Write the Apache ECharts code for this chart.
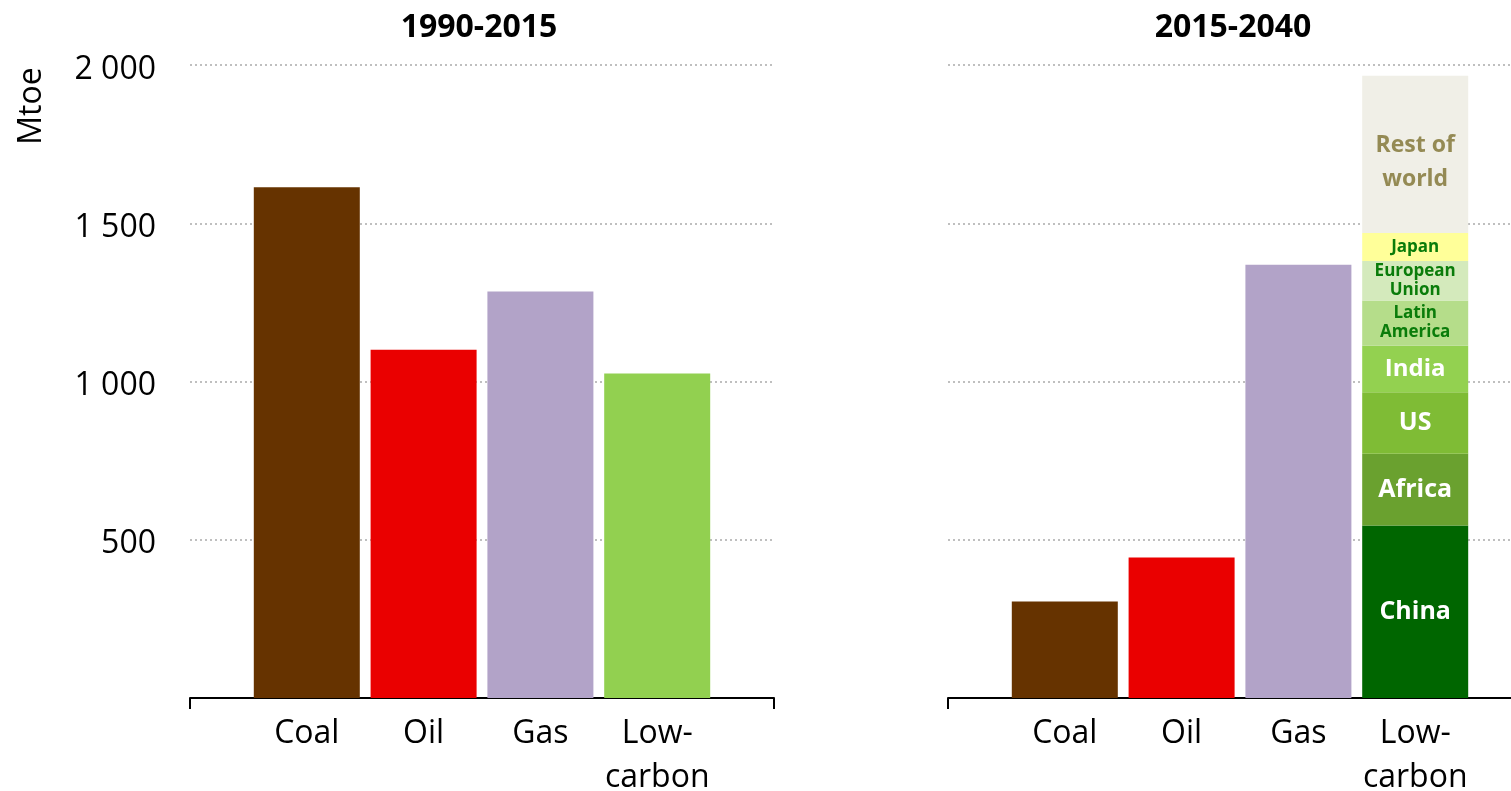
<!DOCTYPE html>
<html>
<head>
<meta charset="utf-8">
<script src="https://cdn.jsdelivr.net/npm/echarts@6/dist/echarts.min.js"></script>
<style>
html,body{margin:0;padding:0;background:#fff;}
#chart{width:1511px;height:791px;}
</style>
</head>
<body>
<div id="chart"></div>
<script>
// ---- data ----
const categories = ['Coal', 'Oil', 'Gas', 'Low-carbon'];
const panelTitles = ['1990-2015', '2015-2040'];
const values1990to2015 = [1614, 1100, 1284, 1025];
const fuels2015to2040 = ['Coal', 'Oil', 'Gas'];
const values2015to2040 = [305, 444, 1369];
const regions = ['China', 'Africa', 'US', 'India', 'Latin America', 'European Union', 'Japan', 'Rest of world'];
const regionLabels = ['China', 'Africa', 'US', 'India', 'Latin\nAmerica', 'European\nUnion', 'Japan', 'Rest of\nworld'];
const regionValues2015to2040 = [545, 227, 194, 147, 143, 125, 88, 497];
const yTickValues = [0, 500, 1000, 1500, 2000];
const yAxisUnit = 'Mtoe';

// ---- styles ----
const FONT = '"Open Sans", "Noto Sans", sans-serif';
const fuelColors = ['#663300', '#EA0000', '#B2A3C8', '#92D050'];
const regionColors = ['#006600', '#6AA12F', '#7FBC35', '#93D150', '#B5DD8A', '#D4EABC', '#FFFF99', '#F0EFE7'];
const regionLabelStyles = [
  {color: '#fff', fontSize: 25},
  {color: '#fff', fontSize: 25},
  {color: '#fff', fontSize: 25},
  {color: '#fff', fontSize: 24},
  {color: '#0A7C0A', fontSize: 17, lineHeight: 19},
  {color: '#0A7C0A', fontSize: 17, lineHeight: 19},
  {color: '#0A7C0A', fontSize: 17},
  {color: '#948A54', fontSize: 23, lineHeight: 34, offset: [0, 8]}
];

function fmtThousands(v) {
  if (v === 0) return '';
  const s = v >= 1000 ? Math.floor(v / 1000) + ' ' + String(v % 1000).padStart(3, '0') : String(v);
  return '{n|' + s + '}';
}

// axis slots: an empty slot at each end so the axis line runs past the bars
const axisCats = [''].concat(categories, ['']);
const nSlots = axisCats.length;
const pad = (arr, offset) => axisCats.map((c, k) => {
  const i = k - offset;
  return (i >= 0 && i < arr.length) ? arr[i] : '-';
});

const chart = echarts.init(document.getElementById('chart'), null, {renderer: 'canvas'});

const gridTop = 65, gridHeight = 633;
function makeX(idx, ticks) {
  return {
    type: 'category', gridIndex: idx, data: axisCats, boundaryGap: false,
    splitLine: {show: false},
    axisLine: {show: true, onZero: false, lineStyle: {color: '#000', width: 2}},
    axisTick: {show: true, customValues: ticks, length: 11, lineStyle: {color: '#000', width: 2}},
    axisLabel: {
      interval: 0, formatter: v => v.replace('-', '-\n'),
      fontSize: 32, lineHeight: 44, color: '#000', fontFamily: FONT, margin: 14
    }
  };
}
function makeY(idx, showLabels) {
  return {
    type: 'value', gridIndex: idx, min: 0, max: 2000, interval: 500,
    axisLine: {show: false}, axisTick: {show: false},
    splitLine: {show: true, lineStyle: {color: '#BFBFBF', width: 2, type: [2, 3]}},
    axisLabel: {
      show: showLabels, customValues: yTickValues, formatter: fmtThousands,
      color: '#000', margin: 34,
      rich: {n: {fontSize: 32, fontFamily: FONT, color: '#000', padding: [9, 0, 0, 0]}}
    }
  };
}

const series = [];
series.push({
  type: 'bar', xAxisIndex: 0, yAxisIndex: 0, barWidth: 106,
  data: pad(values1990to2015, 1).map((v, k) => ({value: v, itemStyle: {color: fuelColors[k - 1]}}))
});
series.push({
  type: 'bar', xAxisIndex: 1, yAxisIndex: 1, barWidth: 106, stack: 'p2',
  data: pad(values2015to2040, 1).map((v, k) => ({value: v, itemStyle: {color: fuelColors[k - 1]}}))
});
const lowSlot = categories.length; // slot index of 'Low-carbon'
regions.forEach((r, i) => {
  const ls = regionLabelStyles[i];
  series.push({
    name: r, type: 'bar', xAxisIndex: 1, yAxisIndex: 1, barWidth: 106, stack: 'p2',
    itemStyle: {color: regionColors[i]},
    label: {
      show: true, position: 'inside', formatter: regionLabels[i],
      color: ls.color, fontSize: ls.fontSize, lineHeight: ls.lineHeight,
      fontWeight: 'bold', fontFamily: FONT, offset: ls.offset || [0, 0]
    },
    data: pad([regionValues2015to2040[i]], lowSlot)
  });
});

chart.setOption({
  animation: false,
  backgroundColor: '#fff',
  grid: [
    {left: 190, top: gridTop, width: 584, height: gridHeight, outerBoundsMode: 'none', containLabel: false},
    {left: 948, top: gridTop, width: 584, height: gridHeight, outerBoundsMode: 'none', containLabel: false}
  ],
  xAxis: [makeX(0, [0, nSlots - 1]), makeX(1, [0])],
  yAxis: [makeY(0, true), makeY(1, false)],
  graphic: [
    {type: 'text', x: 32, y: 106, rotation: Math.PI / 2,
     style: {text: yAxisUnit, font: '32px ' + FONT, fill: '#000', align: 'center', verticalAlign: 'middle'}},
    {type: 'text', x: 479, y: 28,
     style: {text: panelTitles[0], font: 'bold 32px ' + FONT, fill: '#000', align: 'center', verticalAlign: 'middle'}},
    {type: 'text', x: 1233, y: 28,
     style: {text: panelTitles[1], font: 'bold 32px ' + FONT, fill: '#000', align: 'center', verticalAlign: 'middle'}}
  ],
  series: series
});
</script>
</body>
</html>
